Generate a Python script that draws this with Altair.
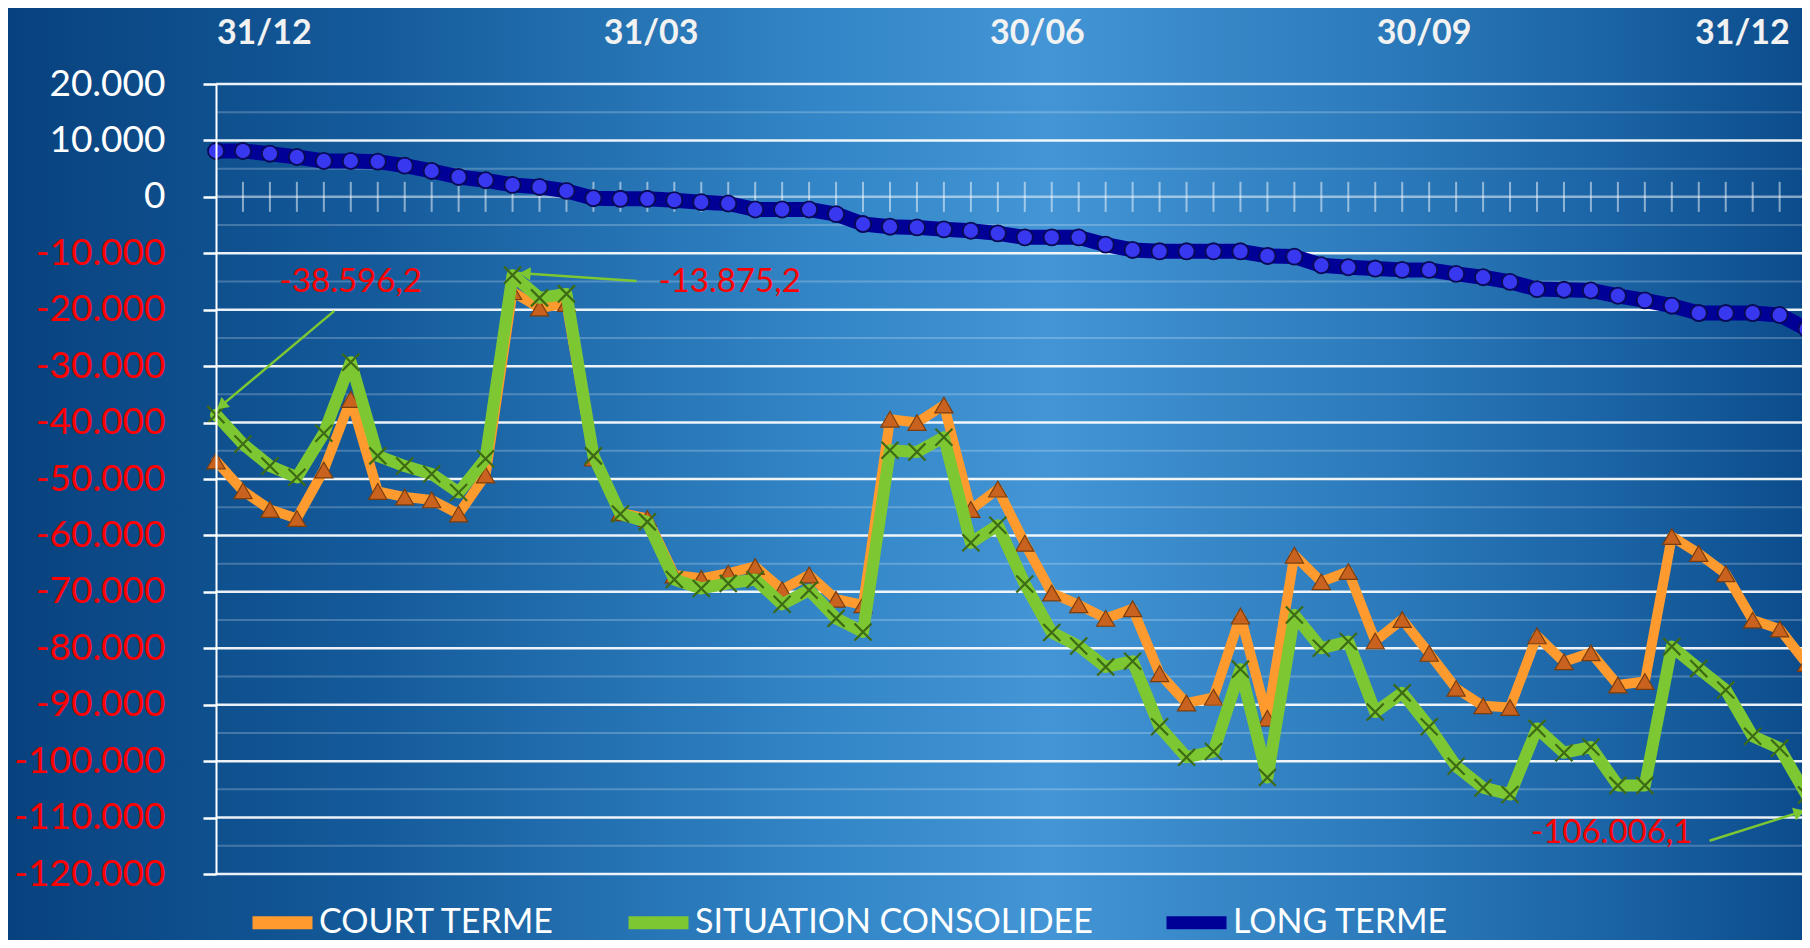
import math
import altair as alt
import pandas as pd

# ---------------- data ----------------
series_names = ["COURT TERME", "SITUATION CONSOLIDEE", "LONG TERME"]

court_terme = [-46800, -52100, -55400, -57000, -48400, -35900, -52200, -53200, -53700, -56200,
               -49300, -16800, -19700, -18900, -46300, -56000, -57000, -67000, -67600, -66700,
               -65500, -69600, -67000, -71300, -72300, -39400, -40000, -36900, -55400, -51800,
               -61400, -70200, -72300, -74700, -73000, -84500, -89700, -88700, -74300, -92400,
               -63500, -68200, -66400, -78700, -74900, -80900, -87100, -90200, -90500, -77800,
               -82400, -80800, -86500, -85900, -60200, -63200, -66800, -75000, -76600, -82700]

situation_consolidee = [-38596.2, -43800, -47700, -49700, -41900, -29300, -45900, -47700, -49100, -52400,
                        -46400, -13875.2, -17900, -17200, -45900, -56200, -57600, -67800, -69400, -68500,
                        -67800, -72200, -69700, -74700, -77100, -44900, -45200, -42600, -61300, -58200,
                        -68600, -77200, -79600, -83300, -82300, -93900, -99300, -98300, -83700, -102900,
                        -74100, -80000, -78800, -91300, -87900, -93900, -100900, -104700, -105900, -94200,
                        -98500, -97500, -104300, -104300, -79700, -83600, -87400, -95600, -97700, -106006.1]

long_terme = [8120, 8120, 7650, 7060, 6350, 6350, 6240, 5530, 4590, 3530,
              2940, 2120, 1760, 1060, -240, -350, -350, -590, -940, -1180,
              -2240, -2240, -2240, -3060, -4820, -5290, -5410, -5760, -6000, -6470,
              -7180, -7180, -7180, -8470, -9410, -9650, -9650, -9650, -9650, -10470,
              -10590, -12120, -12470, -12710, -12940, -12940, -13650, -14240, -15060, -16350,
              -16470, -16590, -17530, -18350, -19290, -20590, -20590, -20590, -20940, -23410]

top_labels = ["31/12", "31/03", "30/06", "30/09", "31/12"]
top_label_pos = [1.79, 16.14, 30.47, 44.81, 56.62]

annot_texts = ["-38.596,2", "-13.875,2", "-106.006,1"]
annot_text_x = [5.0, 19.05, 51.77]
annot_text_y = [-15000, -15000, -112800]
arrow_x0 = [4.39, 15.6, 55.4]
arrow_y0 = [-20200, -14900, -114100]
arrow_x1 = [0.0, 11.2, 58.98]
arrow_y1 = [-37800, -13500, -108700]

# ---------------- layout / style ----------------
W, H = 1586, 790
XMAX = 59 * W / 1590.6
YMIN, YMAX = -120000, 20000
FONT = "Lato, Open Sans, sans-serif"

C_ORANGE = "#FF9A2E"
C_GREEN = "#7DC832"
C_BLUE = "#000096"

n = len(long_terme)
rows = []
for name, vals in zip(series_names, [court_terme, situation_consolidee, long_terme]):
    for k, v in enumerate(vals):
        rows.append({"i": k, "serie": name, "valeur": v})
df = pd.DataFrame(rows)

xscale = alt.Scale(domain=[0, XMAX], nice=False, zero=False)
yscale = alt.Scale(domain=[YMIN, YMAX], nice=False, zero=False)
xenc = alt.X("i:Q", scale=xscale, axis=None)
yaxis = alt.Axis(
    values=list(range(YMIN, YMAX + 1, 10000)),
    labelExpr="(datum.value < 0 ? '-' : '') + replace(format(abs(datum.value), ','), regexp(',', 'g'), '.')",
    labelColor={"condition": {"test": "datum.value < 0", "value": "#FF0000"}, "value": "#FFFFFF"},
    labelFont=FONT, labelFontSize=37, labelPadding=38, labelOverlap=False,
    tickSize=13, tickColor="#FFFFFF", tickWidth=2.5,
    domainColor="#FFFFFF", domainWidth=2,
    grid=False, title=None, zindex=1,
)
yenc = alt.Y("valeur:Q", scale=yscale, axis=yaxis)

color_enc = alt.Color(
    "serie:N",
    scale=alt.Scale(domain=series_names, range=[C_ORANGE, C_GREEN, C_BLUE]),
    legend=alt.Legend(
        title=None, orient="none", legendX=30, legendY=802, direction="horizontal",
        symbolType="stroke", symbolStrokeWidth=13, symbolSize=3600,
        labelFont=FONT, labelFontSize=34, labelColor="#FFFFFF", labelOffset=0,
        columnPadding=47, labelLimit=600, padding=0,
    ),
)

# background gradient
bg = alt.Chart(pd.DataFrame({"a": [0]})).mark_rect(
    fill=alt.Gradient(
        gradient="linear", x1=0, y1=0, x2=1, y2=0,
        stops=[
            alt.GradientStop(offset=0.0, color="#08427E"),
            alt.GradientStop(offset=0.2, color="#145A9A"),
            alt.GradientStop(offset=0.45, color="#3285C6"),
            alt.GradientStop(offset=0.58, color="#4395D5"),
            alt.GradientStop(offset=0.78, color="#2A78B9"),
            alt.GradientStop(offset=0.92, color="#175E9F"),
            alt.GradientStop(offset=1.0, color="#0C4C8C"),
        ],
    )
).encode(x=alt.value(-208), x2=alt.value(W), y=alt.value(-76), y2=alt.value(H + 66))

major_df = pd.DataFrame({"valeur": list(range(YMIN, YMAX + 1, 10000))})
major = alt.Chart(major_df).mark_rule(color="#FFFFFF", strokeWidth=2.5).encode(
    y=yenc,
    opacity=alt.condition("datum.valeur === 0", alt.value(0.5), alt.value(0.92)),
)
minor_df = pd.DataFrame({"valeur": list(range(YMIN + 5000, YMAX, 10000))})
minor = alt.Chart(minor_df).mark_rule(color="#FFFFFF", strokeWidth=2, opacity=0.22).encode(y=yenc)

ticks_df = pd.DataFrame({"i": list(range(1, n)), "valeur": [0] * (n - 1)})
ticks = alt.Chart(ticks_df).mark_tick(orient="vertical", size=30, thickness=2, color="#FFFFFF", opacity=0.5).encode(
    x=xenc, y=yenc)


def line_layer(name, width):
    return alt.Chart(df).transform_filter(alt.datum.serie == name).mark_line(
        strokeWidth=width, strokeJoin="round", strokeCap="round"
    ).encode(x=xenc, y=yenc, color=color_enc)


orange_line = line_layer("COURT TERME", 10)
green_line = line_layer("SITUATION CONSOLIDEE", 12)
blue_line = line_layer("LONG TERME", 15)

orange_pts = alt.Chart(df).transform_filter(alt.datum.serie == "COURT TERME").mark_point(
    shape="triangle-up", filled=True, fill="#C8621E", stroke="#7A3E0E", strokeWidth=1.2, size=330, opacity=1
).encode(x=xenc, y=yenc)
green_pts = alt.Chart(df).transform_filter(alt.datum.serie == "SITUATION CONSOLIDEE").mark_point(
    shape="M-1,-1L1,1M1,-1L-1,1", filled=False, stroke="#3D6A14", strokeWidth=2.2, size=290, opacity=1
).encode(x=xenc, y=yenc)
blue_pts = alt.Chart(df).transform_filter(alt.datum.serie == "LONG TERME").mark_point(
    shape="circle", filled=True, fill="#3838F0", stroke="#0A0A55", strokeWidth=1.8, size=260, opacity=1
).encode(x=xenc, y=yenc)

# arrows
pxx = W / XMAX
pxy = H / (YMAX - YMIN)
arr_rows = []
for x0, y0, x1, y1 in zip(arrow_x0, arrow_y0, arrow_x1, arrow_y1):
    dx = (x1 - x0) * pxx
    dy = -(y1 - y0) * pxy
    ln = math.hypot(dx, dy)
    ang = math.degrees(math.atan2(dx, -dy)) % 360
    hx = x1 - (dx / ln) * 7 / pxx
    hy = y1 + (dy / ln) * 7 / pxy
    arr_rows.append({"i": x0, "valeur": y0, "i2": x1, "valeur2": y1, "hi": hx, "hv": hy, "ang": ang})
arr_df = pd.DataFrame(arr_rows)

arrows = alt.Chart(arr_df).mark_rule(color=C_GREEN, strokeWidth=2.5).encode(
    x=xenc, y=yenc, x2="i2:Q", y2="valeur2:Q")
heads = alt.Chart(arr_df).mark_point(shape="triangle-up", filled=True, color=C_GREEN, size=170, opacity=1).encode(
    x=alt.X("hi:Q", scale=xscale, axis=None),
    y=alt.Y("hv:Q", scale=yscale, axis=yaxis),
    angle=alt.Angle("ang:Q", scale=None),
)

ann_df = pd.DataFrame({"i": annot_text_x, "valeur": annot_text_y, "t": annot_texts})
ann = alt.Chart(ann_df).mark_text(font=FONT, fontSize=33, color="#FF0000", baseline="middle", align="center").encode(
    x=xenc, y=yenc, text="t:N")

top_df = pd.DataFrame({"i": top_label_pos, "t": top_labels})
top = alt.Chart(top_df).mark_text(font=FONT, fontSize=34, fontWeight="bold", color="#F2F2F2",
                                  baseline="middle", align="center").encode(
    x=xenc, y=alt.value(-50), text="t:N")

chart = alt.layer(
    bg, minor, major, ticks,
    orange_line, orange_pts, green_line, green_pts, blue_line, blue_pts,
    arrows, heads, ann, top,
).properties(
    width=W, height=H,
    autosize=alt.AutoSizeParams(type="none"),
    padding={"left": 208, "top": 76, "right": 0, "bottom": 66},
    background="#0B4A86",
).configure_view(stroke=None)

chart.save("out.html", embed_options={"renderer": "svg", "actions": False})
